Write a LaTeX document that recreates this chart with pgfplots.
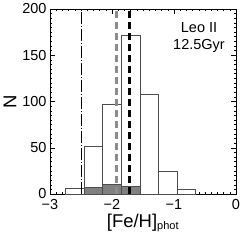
\documentclass[border=0pt]{standalone}
\usepackage{fontspec}
\setmainfont{Liberation Sans}
\usepackage{pgfplots}
\pgfplotsset{compat=1.18}
\begin{document}
\begin{tikzpicture}
\begin{axis}[
  scale only axis, width=186pt, height=185pt,
  xmin=-3, xmax=0, ymin=0, ymax=200,
  xtick={-3,-2,-1,0}, xticklabels={−3,−2,−1,0},
  ytick={0,50,100,150,200},
  /pgf/number format/assume math mode=true,
  minor x tick num=9, minor y tick num=9,
  tick align=inside, major tick length=5pt, minor tick length=2.5pt,
  tick style={black, line width=0.5pt},
  ticklabel style={font=\fontsize{14.5}{14.5}\selectfont},
  xticklabel style={yshift=-2pt},
  xlabel={[Fe/H]$_{\textrm{\fontsize{11}{11}\selectfont phot}}$},
  ylabel={N},
  label style={font=\fontsize{18.5}{18.5}\selectfont},
  xlabel style={at={(axis description cs:0.5,-0.18)}, anchor=base},
  ylabel style={at={(axis description cs:-0.215,0.5)}, anchor=center},
  axis line style={black, line width=0.6pt},
  clip=false,
]
\addplot[ybar interval, draw=black!70, fill=white, line width=0.7pt] coordinates {
 (-2.75,6) (-2.45,52) (-2.15,97) (-1.85,171) (-1.55,108) (-1.25,25) (-0.95,5) (-0.65,5)};
\addplot[ybar interval, draw=black!70, fill=black!50, line width=0.7pt] coordinates {
 (-2.45,7) (-2.15,10) (-1.85,8) (-1.55,8)};
\addplot[black, line width=0.9pt, dash pattern=on 12pt off 2pt on 1pt off 2pt] coordinates {(-2.5,0) (-2.5,200)};
\addplot[black!45, line width=3pt, dash pattern=on 7pt off 4pt] coordinates {(-1.935,0) (-1.935,200)};
\addplot[black, line width=2.6pt, dash pattern=on 7pt off 4pt] coordinates {(-1.72,0) (-1.72,200)};
\node[align=center, anchor=north east, inner sep=0pt, font=\fontsize{14.5}{17}\selectfont] at (rel axis cs:0.941,0.93) {Leo II\\12.5Gyr};
\end{axis}
\pgfresetboundingbox
\path (current axis.south west) ++(-50pt,-52pt) coordinate (bbl);
\path (current axis.north east) ++(12pt,9pt) coordinate (bbr);
\path[use as bounding box] (bbl) rectangle (bbr);
\end{tikzpicture}
\end{document}
